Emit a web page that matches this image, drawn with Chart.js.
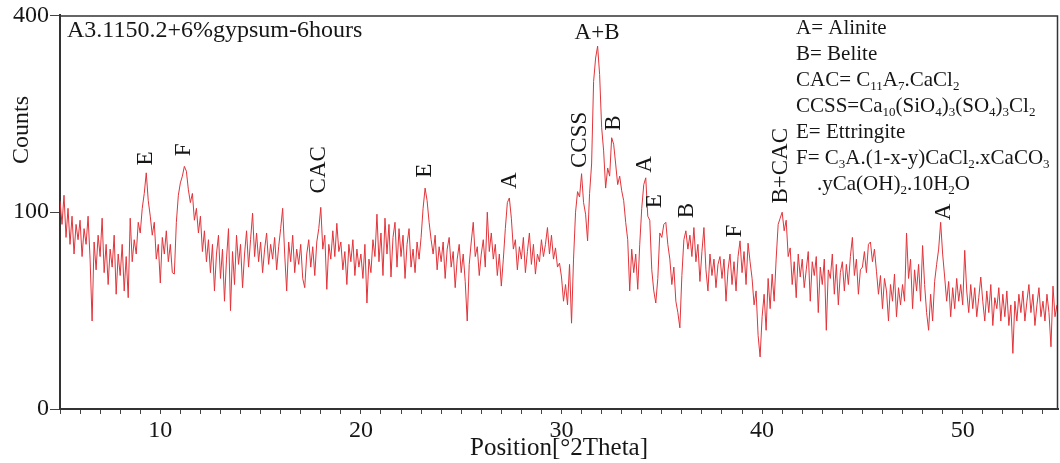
<!DOCTYPE html>
<html>
<head>
<meta charset="utf-8">
<script src="https://cdn.jsdelivr.net/npm/chart.js@4.4.1/dist/chart.umd.min.js"></script>
<style>
  html, body { margin: 0; padding: 0; background: #fff; }
  #wrap { width: 1060px; height: 463px; position: relative; }
</style>
</head>
<body>
<div id="wrap"><canvas id="xrd"></canvas></div>
<script>
// scan: 2theta from 5 deg in 0.1 deg steps
const thetaStart = 5.0;
const thetaStep = 0.1;
const counts = [
  112, 88, 118, 76, 104, 70, 96, 62, 88, 74,
  92, 60, 84, 70, 96, 58, 20, 72, 50, 78,
  60, 94, 48, 70, 40, 66, 52, 78, 34, 62,
  46, 70, 36, 60, 32, 94, 56, 74, 62, 90,
  80, 104, 120, 144, 112, 96, 78, 90, 58, 70,
  41, 76, 62, 82, 56, 70, 48, 47, 90, 118,
  132, 140, 152, 146, 124, 110, 120, 92, 104, 80,
  96, 64, 82, 56, 74, 48, 70, 36, 62, 78,
  44, 66, 30, 58, 84, 25, 64, 40, 78, 54,
  70, 38, 62, 82, 52, 74, 99, 60, 80, 56,
  72, 48, 66, 80, 54, 70, 58, 76, 50, 68,
  84, 104, 62, 36, 72, 56, 78, 48, 66, 54,
  70, 44, 38, 62, 74, 52, 68, 46, 72, 84,
  105, 66, 78, 37, 70, 58, 82, 60, 89, 64,
  72, 50, 64, 40, 70, 56, 74, 46, 66, 52,
  62, 44, 70, 29, 58, 48, 74, 60, 98, 56,
  80, 46, 94, 62, 88, 45, 76, 90, 52, 84,
  60, 78, 44, 70, 84, 52, 66, 48, 72, 58,
  76, 104, 126, 112, 90, 74, 62, 78, 50, 68,
  56, 72, 44, 66, 76, 52, 64, 38, 58, 70,
  48, 62, 42, 20, 54, 72, 90, 60, 68, 46,
  62, 74, 52, 100, 64, 80, 58, 70, 46, 62,
  39, 58, 84, 110, 115, 94, 66, 74, 50, 68,
  58, 76, 48, 64, 80, 54, 70, 47, 62, 56,
  74, 60, 70, 85, 62, 78, 58, 67, 52, 55,
  45, 30, 40, 28, 54, 19, 58, 100, 122, 116,
  143, 110, 98, 73, 120, 155, 277, 318, 340, 289,
  205, 172, 126, 150, 140, 190, 181, 155, 130, 140,
  123, 112, 90, 74, 36, 66, 48, 62, 37, 70,
  104, 130, 138, 96, 92, 50, 36, 29, 44, 80,
  76, 88, 90, 70, 58, 40, 52, 30, 24, 17,
  46, 74, 82, 66, 78, 60, 85, 56, 70, 42,
  64, 85, 50, 36, 62, 46, 58, 38, 54, 60,
  44, 58, 30, 50, 62, 40, 56, 36, 60, 73,
  48, 64, 40, 71, 56, 44, 28, 36, 14, 7,
  22, 34, 16, 44, 26, 47, 30, 58, 88, 94,
  100, 82, 92, 60, 67, 40, 56, 32, 62, 45,
  58, 38, 50, 64, 30, 56, 46, 60, 24, 52,
  40, 58, 16, 50, 44, 62, 34, 54, 28, 48,
  56, 36, 54, 40, 60, 76, 46, 58, 34, 50,
  52, 64, 48, 70, 72, 56, 66, 49, 34, 46,
  26, 44, 36, 20, 40, 30, 47, 22, 38, 28,
  40, 30, 80, 44, 58, 26, 50, 36, 54, 30,
  69, 40, 24, 16, 34, 20, 42, 54, 66, 90,
  62, 45, 30, 42, 22, 38, 26, 44, 30, 40,
  28, 65, 36, 24, 40, 26, 38, 22, 32, 45,
  30, 20, 36, 24, 40, 18, 32, 26, 38, 20,
  34, 22, 36, 18, 28, 8, 30, 20, 34, 24,
  36, 20, 30, 40, 24, 34, 18, 28, 38, 22,
  30, 20, 34, 24, 10, 39, 22, 28
];

const xTickLabels = [10, 20, 30, 40, 50];
const yTicks = [0, 100, 400];

// peak identification: phase letter, 2theta, count level of the label foot
const peakNames = ['E', 'F', 'CAC', 'E', 'A', 'CCSS', 'A+B', 'B', 'A', 'E', 'B', 'F', 'B+CAC', 'A'];
const peakTheta = [9.3, 11.2, 17.9, 23.2, 27.43, 30.9, 31.77, 32.6, 34.15, 34.66, 36.26, 38.65, 40.94, 49.05];
const peakLabelAt = [153, 165, 120, 138, 125, 150, 353, 200, 144, 104, 94, 76, 109, 92];

const sampleName = 'A3.1150.2+6%gypsum-6hours';
const phaseKey = [
  'A= Alinite',
  'B= Belite',
  'CAC= C_{11}A_{7}.CaCl_{2}',
  'CCSS=Ca_{10}(SiO_{4})_{3}(SO_{4})_{3}Cl_{2}',
  'E= Ettringite',
  'F= C_{3}A.(1-x-y)CaCl_{2}.xCaCO_{3}',
  '    .yCa(OH)_{2}.10H_{2}O'
];

const serif = '"Liberation Serif", "Times New Roman", serif';
const ink = '#161616';

// square-root intensity axis
class SqrtScale extends Chart.LinearScale {
  getPixelForValue(value) {
    const lo = Math.sqrt(this.min), hi = Math.sqrt(this.max);
    return this.getPixelForDecimal((Math.sqrt(Math.max(value, 0)) - lo) / (hi - lo));
  }
  getValueForPixel(pixel) {
    const lo = Math.sqrt(this.min), hi = Math.sqrt(this.max);
    const s = lo + this.getDecimalForPixel(pixel) * (hi - lo);
    return s * s;
  }
}
SqrtScale.id = 'sqrt';
SqrtScale.defaults = Chart.LinearScale.defaults;
Chart.register(SqrtScale);

// text with _{..} subscripts
function richText(ctx, str, x, y, size) {
  let cx = x;
  for (const part of str.split(/(_\{[^}]*\})/)) {
    if (!part) continue;
    if (part.startsWith('_{')) {
      const t = part.slice(2, -1);
      ctx.font = Math.round(size * 0.64) + 'px ' + serif;
      ctx.fillText(t, cx, y + size * 0.2);
      cx += ctx.measureText(t).width;
    } else {
      ctx.font = size + 'px ' + serif;
      ctx.fillText(part, cx, y);
      cx += ctx.measureText(part).width;
    }
  }
}

const annotations = {
  id: 'annotations',
  afterDraw(chart) {
    const {ctx, chartArea: a, scales: {x, y}} = chart;
    ctx.save();
    // frame top and right
    ctx.strokeStyle = '#333';
    ctx.lineWidth = 1.5;
    ctx.beginPath();
    ctx.moveTo(a.left, a.top + 0.5);
    ctx.lineTo(a.right - 0.5, a.top + 0.5);
    ctx.lineTo(a.right - 0.5, a.bottom);
    ctx.stroke();

    ctx.fillStyle = ink;
    ctx.textBaseline = 'alphabetic';
    ctx.textAlign = 'left';
    ctx.font = '24px ' + serif;
    ctx.fillText(sampleName, a.left + 7, 37);

    // y axis title sits high, above the 100 tick
    ctx.save();
    ctx.translate(22, 130);
    ctx.rotate(-Math.PI / 2);
    ctx.textAlign = 'center';
    ctx.textBaseline = 'middle';
    ctx.font = '24px ' + serif;
    ctx.fillText('Counts', 0, 0);
    ctx.restore();

    phaseKey.forEach((line, i) => richText(ctx, line, 796, 34 + i * 26, 21));

    ctx.font = '23px ' + serif;
    peakNames.forEach((name, i) => {
      const px = x.getPixelForValue(peakTheta[i]);
      const py = y.getPixelForValue(peakLabelAt[i]);
      ctx.save();
      if (name === 'A+B') {
        ctx.textAlign = 'center';
        ctx.textBaseline = 'alphabetic';
        ctx.fillText(name, px, py);
      } else {
        ctx.translate(px, py);
        ctx.rotate(-Math.PI / 2);
        ctx.textAlign = 'left';
        ctx.textBaseline = 'middle';
        ctx.fillText(name, 0, 0);
      }
      ctx.restore();
    });
    ctx.restore();
  }
};

const points = counts.map((c, i) => ({x: +(thetaStart + i * thetaStep).toFixed(1), y: c}));

new Chart(document.getElementById('xrd'), {
  type: 'line',
  data: {
    datasets: [{
      data: points,
      borderColor: 'rgb(226, 52, 58)',
      borderWidth: 1,
      pointRadius: 0,
      tension: 0
    }]
  },
  options: {
    responsive: true,
    maintainAspectRatio: false,
    animation: false,
    devicePixelRatio: 1,
    layout: {padding: {top: 14, right: 2, left: 0, bottom: 0}},
    plugins: {legend: {display: false}, tooltip: {enabled: false}},
    scales: {
      x: {
        type: 'linear',
        min: 5,
        max: 54.75,
        afterBuildTicks: s => {
          const t = [];
          for (let v = 5; v <= 54; v++) t.push({value: v});
          s.ticks = t;
        },
        afterFit: s => { s.height = 54; },
        ticks: {
          autoSkip: false,
          maxRotation: 0,
          padding: 2,
          color: ink,
          font: {family: serif, size: 24},
          callback: v => xTickLabels.includes(v) ? String(v) : ''
        },
        grid: {drawOnChartArea: false, tickLength: 5, color: '#444'},
        border: {color: '#333', width: 2},
        title: {
          display: true,
          text: 'Position[°2Theta]',
          color: ink,
          font: {family: serif, size: 25},
          padding: {top: 0, bottom: 0}
        }
      },
      y: {
        type: 'sqrt',
        min: 0,
        max: 400,
        afterBuildTicks: s => { s.ticks = yTicks.map(v => ({value: v})); },
        afterFit: s => { s.width = 60; },
        ticks: {
          padding: 1,
          color: ink,
          font: {family: serif, size: 24}
        },
        grid: {drawOnChartArea: false, tickLength: 10, color: '#444'},
        border: {color: '#333', width: 2},
        title: {display: false}
      }
    }
  },
  plugins: [annotations]
});
</script>
</body>
</html>
